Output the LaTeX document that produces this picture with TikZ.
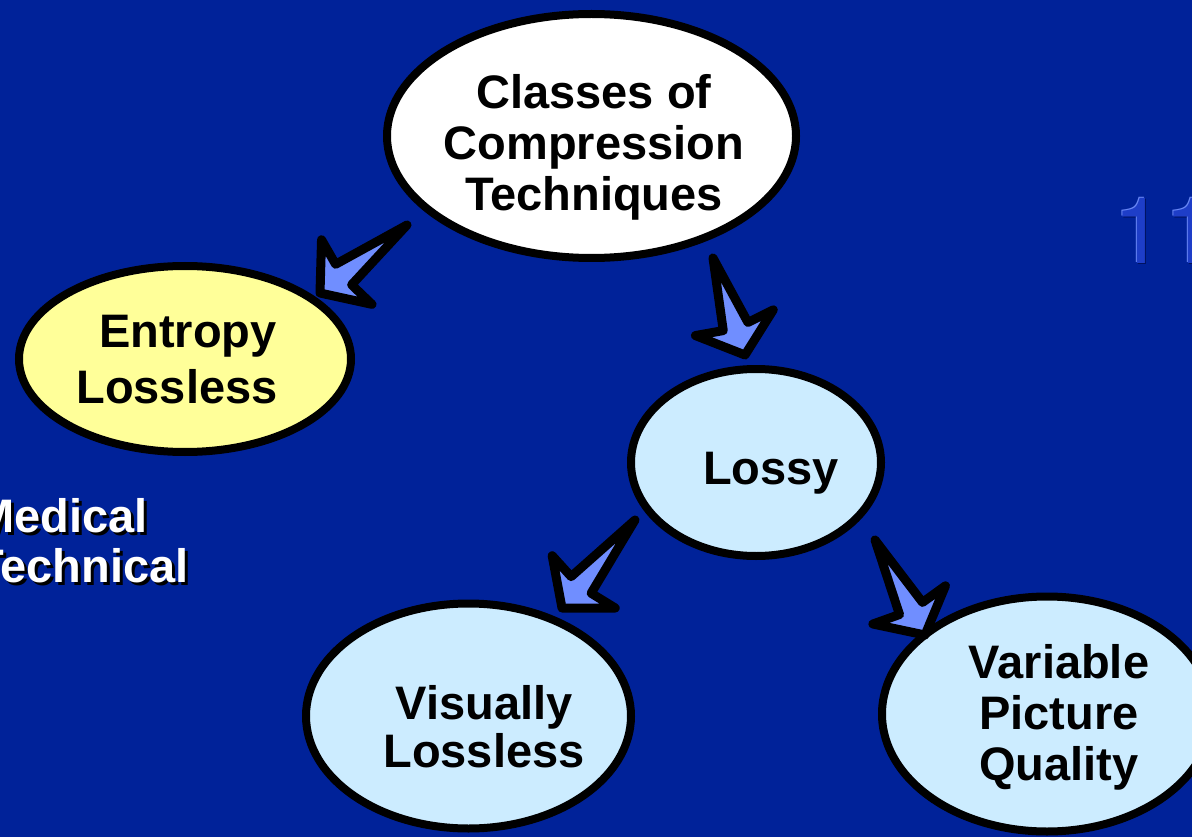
\documentclass[tikz,border=0pt]{standalone}
\usepackage{fontspec}
\setmainfont{Liberation Sans}
\newfontfamily\numfont{TeX Gyre Heros}
\usetikzlibrary{shapes.geometric,calc}
\definecolor{bg}{RGB}{0,34,153}
\definecolor{arrowc}{RGB}{112,142,255}
\definecolor{yellowc}{RGB}{255,255,153}
\definecolor{lightc}{RGB}{204,236,255}
\definecolor{numfill}{RGB}{30,62,200}
\definecolor{numhi}{RGB}{105,135,245}
\definecolor{numsh}{RGB}{0,18,95}
\tikzset{
  ell/.style={ellipse, draw=black, line width=8pt, inner sep=0pt},
  txt/.style={font=\bfseries\fontsize{47}{51}\selectfont, align=center, text=black, inner sep=0pt},
  side/.style={font=\bfseries\fontsize{47}{50}\selectfont, align=left, inner sep=0pt, anchor=west},
  num/.style={font=\numfont\fontsize{92}{92}\selectfont, inner sep=0pt, anchor=base west},
  barrow/.style={draw=black, fill=arrowc, line width=9pt, line join=round}
}
\newcommand{\blockarrow}[2]{%
  \draw[barrow] (#1)
   -- ($(#2)!30pt!(#1)!13pt!90:(#1)$)
   -- ($(#2)!34pt!(#1)!41pt!90:(#1)$)
   -- (#2)
   -- ($(#2)!34pt!(#1)!41pt!-90:(#1)$)
   -- ($(#2)!30pt!(#1)!13pt!-90:(#1)$)
   -- cycle;}
\begin{document}
\begin{tikzpicture}[x=1pt,y=-1pt]
\useasboundingbox (0,0) rectangle (1192,837);
\fill[bg] (0,0) rectangle (1192,837);
\clip (0,0) rectangle (1192,837);

% page number
\node[num, text=numsh] (pnsh) at (1114.5,264.5) {11};
\node[num, text=numhi] (pnhi) at (1112,262) {11};
\node[num, text=numfill] (pn) at (1113.2,263.2) {11};

% side text
\node[side, text=black] (sidesh) at (-22,544) {Medical\\Technical};
\node[side, text=white] (side) at (-25,541) {Medical\\Technical};

% ellipses
\node[ell, fill=white, minimum width=409pt, minimum height=244pt] (cls) at (591.5,136) {};
\node[txt] (clst) at (594,147) {Classes of\\Compression\\Techniques};

\node[ell, fill=yellowc, minimum width=332pt, minimum height=186pt] (ent) at (185,359) {};
\node[txt, font=\bfseries\fontsize{47}{56}\selectfont] (entt) at (177,360) {\hspace*{22pt}Entropy\\Lossless};

\node[ell, fill=lightc, minimum width=250pt, minimum height=187pt] (lossy) at (756,462.5) {};
\node[txt] (lossyt) at (771,473) {Lossy};

\node[ell, fill=lightc, minimum width=325pt, minimum height=225pt] (vis) at (468.5,716) {};
\node[txt, font=\bfseries\fontsize{47}{48}\selectfont] (vist) at (484,727) {Visually\\Lossless};

\node[ell, fill=lightc, minimum width=330pt, minimum height=235pt] (var) at (1047,714) {};
\node[txt] (vart) at (1059,717) {Variable\\Picture\\Quality};

% arrow end points
\coordinate (a1t) at (407,225);
\coordinate (a1h) at (320,293);
\coordinate (a2t) at (713,258);
\coordinate (a2h) at (745,355);
\coordinate (a3t) at (635,520);
\coordinate (a3h) at (562,608);
\coordinate (a4t) at (875,540);
\coordinate (a4h) at (925,635);

\blockarrow{a1t}{a1h}
\blockarrow{a2t}{a2h}
\blockarrow{a3t}{a3h}
\blockarrow{a4t}{a4h}
\end{tikzpicture}
\end{document}
